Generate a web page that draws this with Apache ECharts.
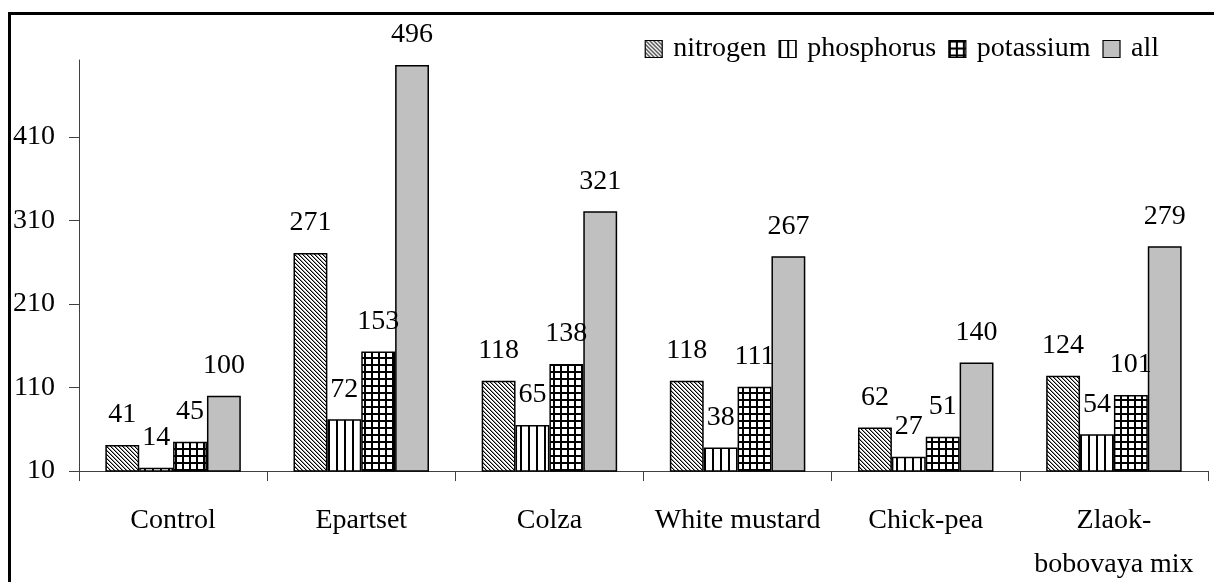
<!DOCTYPE html>
<html>
<head>
<meta charset="utf-8">
<script src="https://cdn.jsdelivr.net/npm/echarts@6/dist/echarts.min.js"></script>
<style>
html,body{margin:0;padding:0;background:#fff;}
#chart{width:1214px;height:582px;}
</style>
</head>
<body>
<div id="chart"></div>
<script>
const categories = ['Control', 'Epartset', 'Colza', 'White mustard', 'Chick-pea', 'Zlaok-\nbobovaya mix'];
const nitrogen = [41, 271, 118, 118, 62, 124];
const phosphorus = [14, 72, 65, 38, 27, 54];
const potassium = [45, 153, 138, 111, 51, 101];
const all = [100, 496, 321, 267, 140, 279];
const yTicks = [10, 110, 210, 310, 410];

function makeCanvas(w, h, draw) {
  const c = document.createElement('canvas');
  c.width = w; c.height = h;
  const ctx = c.getContext('2d');
  ctx.fillStyle = '#fff';
  ctx.fillRect(0, 0, w, h);
  draw(ctx);
  return c;
}
const hatchImg = makeCanvas(4, 4, ctx => {
  for (let i = 0; i < 4; i++) {
    ctx.fillStyle = '#000';
    ctx.fillRect(i, i, 1, 1);
    ctx.fillStyle = '#999';
    ctx.fillRect((i + 1) % 4, i, 1, 1);
  }
});
const vertImg = makeCanvas(8, 2, ctx => {
  ctx.fillStyle = '#000';
  ctx.fillRect(0, 0, 2, 2);
});
const gridImg = makeCanvas(7, 7, ctx => {
  ctx.fillStyle = '#000';
  ctx.fillRect(0, 0, 7, 2);
  ctx.fillRect(0, 0, 2, 7);
});

const font = 'Liberation Serif';
const chart = echarts.init(document.getElementById('chart'), null, {renderer: 'canvas'});

function mk(name, data, color) {
  return {
    name: name,
    type: 'bar',
    data: data,
    barGap: '0%',
    barCategoryGap: '28%',
    clip: true,
    itemStyle: {color: color, borderColor: '#000', borderWidth: 1.5},
    label: {show: true, position: 'top', distance: 16, color: '#000', fontFamily: font, fontSize: 28},
    emphasis: {disabled: true}
  };
}

chart.setOption({
  animation: false,
  backgroundColor: '#fff',
  graphic: [{
    type: 'rect', shape: {x: 9.5, y: 13.5, width: 1400, height: 800},
    style: {fill: 'none', stroke: '#000', lineWidth: 3}, z: 100, silent: true
  }],
  legend: {
    right: 50, top: 30,
    itemWidth: 17, itemHeight: 17, itemGap: 12,
    icon: 'rect',
    textStyle: {fontFamily: font, fontSize: 28, color: '#000', padding: [0, 0, 0, 6]},
    itemStyle: {borderColor: '#000', borderWidth: 1.2}
  },
  grid: {left: 79, right: 6, top: 60, bottom: 111, outerBoundsMode: 'none', containLabel: false},
  xAxis: {
    type: 'category',
    data: categories,
    axisLine: {lineStyle: {color: '#404040', width: 1}},
    axisTick: {show: true, length: 10, lineStyle: {color: '#404040'}},
    axisLabel: {color: '#000', fontFamily: font, fontSize: 28, margin: 28, lineHeight: 44, interval: 0}
  },
  yAxis: {
    type: 'value',
    min: 10, max: 502, interval: 100,
    splitLine: {show: false},
    axisLine: {show: true, lineStyle: {color: '#404040', width: 1}},
    axisTick: {show: true, length: 10, lineStyle: {color: '#404040'}, customValues: yTicks},
    axisLabel: {color: '#000', fontFamily: font, fontSize: 28, margin: 24, customValues: yTicks}
  },
  series: [
    mk('nitrogen', nitrogen, {image: hatchImg, repeat: 'repeat'}),
    mk('phosphorus', phosphorus, {image: vertImg, repeat: 'repeat'}),
    mk('potassium', potassium, {image: gridImg, repeat: 'repeat'}),
    mk('all', all, '#c0c0c0')
  ]
});
</script>
</body>
</html>
